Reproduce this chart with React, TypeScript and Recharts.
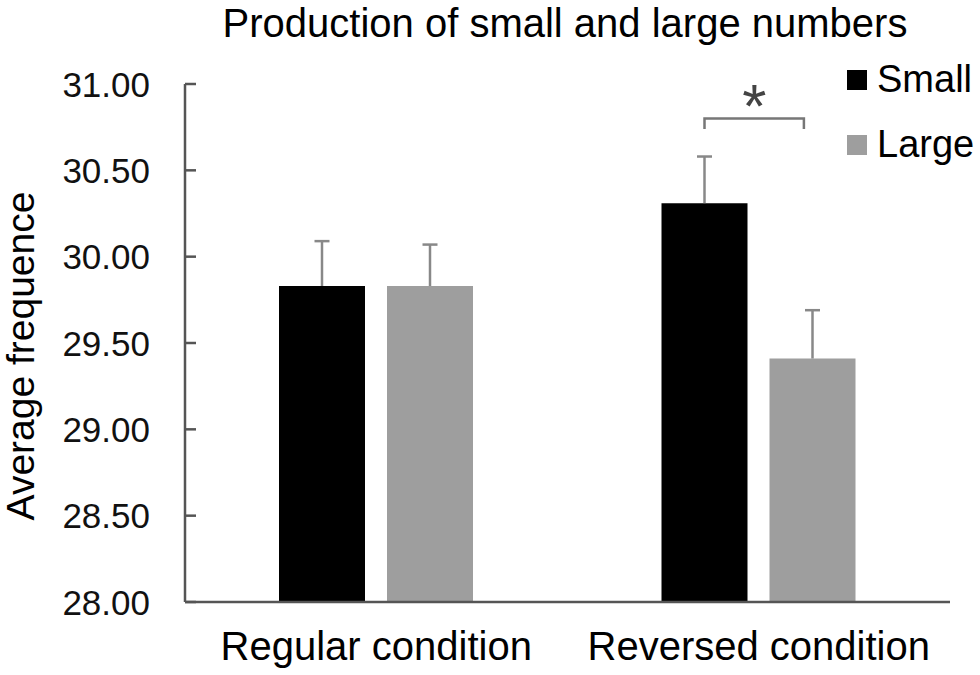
import { BarChart, Bar, XAxis, YAxis, Legend, LabelList } from "recharts";

const categories = ["Regular condition", "Reversed condition"];
const seriesNames = ["Small", "Large"];
const smallMeans = [29.83, 30.31];
const largeMeans = [29.83, 29.41];
const smallErrors = [0.26, 0.27];
const largeErrors = [0.24, 0.28];
const yTicks = [28, 28.5, 29, 29.5, 30, 30.5, 31];
const bracketLevel = 30.8;
const bracketDrop = 0.06;

const data = categories.map((name, i) => ({
  name,
  Small: smallMeans[i],
  Large: largeMeans[i],
  smallErr: smallErrors[i],
  largeErr: largeErrors[i],
}));

const FONT = "'Liberation Sans', Arial, sans-serif";
const AXIS = "#555";
const ERR = "#888";

const YTick = ({ x, y, payload }: any) => (
  <g>
    <line x1={x + 35} x2={x + 46} y1={y} y2={y} stroke={AXIS} strokeWidth={2.5} />
    <text x={x} y={y} textAnchor="end" dominantBaseline="central" fontSize={35} fill="#111" fontFamily={FONT}>
      {Number(payload.value).toFixed(2)}
    </text>
  </g>
);

// upper-only error bar, placed from the bar geometry the library computed
const errorBar = (means: number[]) => (props: any) => {
  const { x, y, width, height, value, index } = props;
  const perUnit = height / (means[index] - yTicks[0]);
  const cx = x + width / 2;
  const top = y - value * perUnit;
  return (
    <g>
      <line x1={cx} x2={cx} y1={y} y2={top} stroke={ERR} strokeWidth={2.5} />
      <line x1={cx - 7.5} x2={cx + 7.5} y1={top} y2={top} stroke={ERR} strokeWidth={2.5} />
    </g>
  );
};

// significance bracket over the reversed condition
const renderBracket = (props: any) => {
  const { x, y, width, height, value, index } = props;
  if (index !== 1) return null;
  const perUnit = height / (value - yTicks[0]);
  const by = y - (bracketLevel - value) * perUnit;
  const drop = bracketDrop * perUnit;
  const right = x + width * 0.4;
  const left = x - 22 - width / 2;
  return (
    <g>
      <path
        d={`M${left},${by + drop} L${left},${by} L${right},${by} L${right},${by + drop}`}
        fill="none"
        stroke="#777"
        strokeWidth={2.5}
      />
      <text x={(left + right) / 2} y={by + 8} textAnchor="middle" fontSize={62} fill="#444" fontFamily={FONT}>
        *
      </text>
    </g>
  );
};

const renderLegend = (props: any) => {
  const items = [...(props.payload || [])].sort(
    (a: any, b: any) => seriesNames.indexOf(a.value) - seriesNames.indexOf(b.value)
  );
  return (
    <div style={{ fontFamily: FONT }}>
      {items.map((p: any) => (
        <div key={p.value} style={{ display: "flex", alignItems: "center", height: 65 }}>
          <span style={{ width: 20, height: 20, background: p.color, display: "inline-block", marginRight: 10 }} />
          <span style={{ fontSize: 38, color: "#000" }}>{p.value}</span>
        </div>
      ))}
    </div>
  );
};

export default function App() {
  return (
    <div style={{ position: "absolute", left: 0, top: 0, width: 980, height: 675, background: "#fff", fontFamily: FONT }}>
      <div
        style={{
          position: "absolute",
          left: 150,
          width: 830,
          top: 3,
          textAlign: "center",
          fontSize: 40,
          lineHeight: "40px",
          color: "#000",
        }}
      >
        Production of small and large numbers
      </div>
      <BarChart
        width={980}
        height={675}
        data={data}
        margin={{ top: 84, right: 30, bottom: 13, left: 0 }}
        barSize={86}
        barGap={22}
        style={{ fontFamily: FONT }}
      >
        <XAxis
          dataKey="name"
          axisLine={{ stroke: AXIS, strokeWidth: 2.5 }}
          tickLine={false}
          tickSize={0}
          tickMargin={30}
          height={60}
          tick={{ fontSize: 40, fill: "#000", fontFamily: FONT }}
        />
        <YAxis
          domain={[28, 31]}
          ticks={yTicks}
          width={185}
          axisLine={{ stroke: AXIS, strokeWidth: 2.5 }}
          tickLine={false}
          tickSize={0}
          tickMargin={35}
          tick={<YTick />}
          allowDataOverflow
          label={{
            content: () => (
              <text transform="translate(34,356) rotate(-90)" textAnchor="middle" fontSize={39} fill="#000" fontFamily={FONT}>
                Average frequence
              </text>
            ),
          }}
        />
        <Legend
          verticalAlign="middle"
          align="center"
          layout="horizontal"
          content={renderLegend}
          wrapperStyle={{ top: 47, left: 847, width: 130 }}
        />
        <Bar dataKey="Small" fill="#000" isAnimationActive={false}>
          <LabelList dataKey="smallErr" content={errorBar(smallMeans)} />
        </Bar>
        <Bar dataKey="Large" fill="#9e9e9e" isAnimationActive={false}>
          <LabelList dataKey="largeErr" content={errorBar(largeMeans)} />
          <LabelList dataKey="Large" content={renderBracket} />
        </Bar>
      </BarChart>
    </div>
  );
}
